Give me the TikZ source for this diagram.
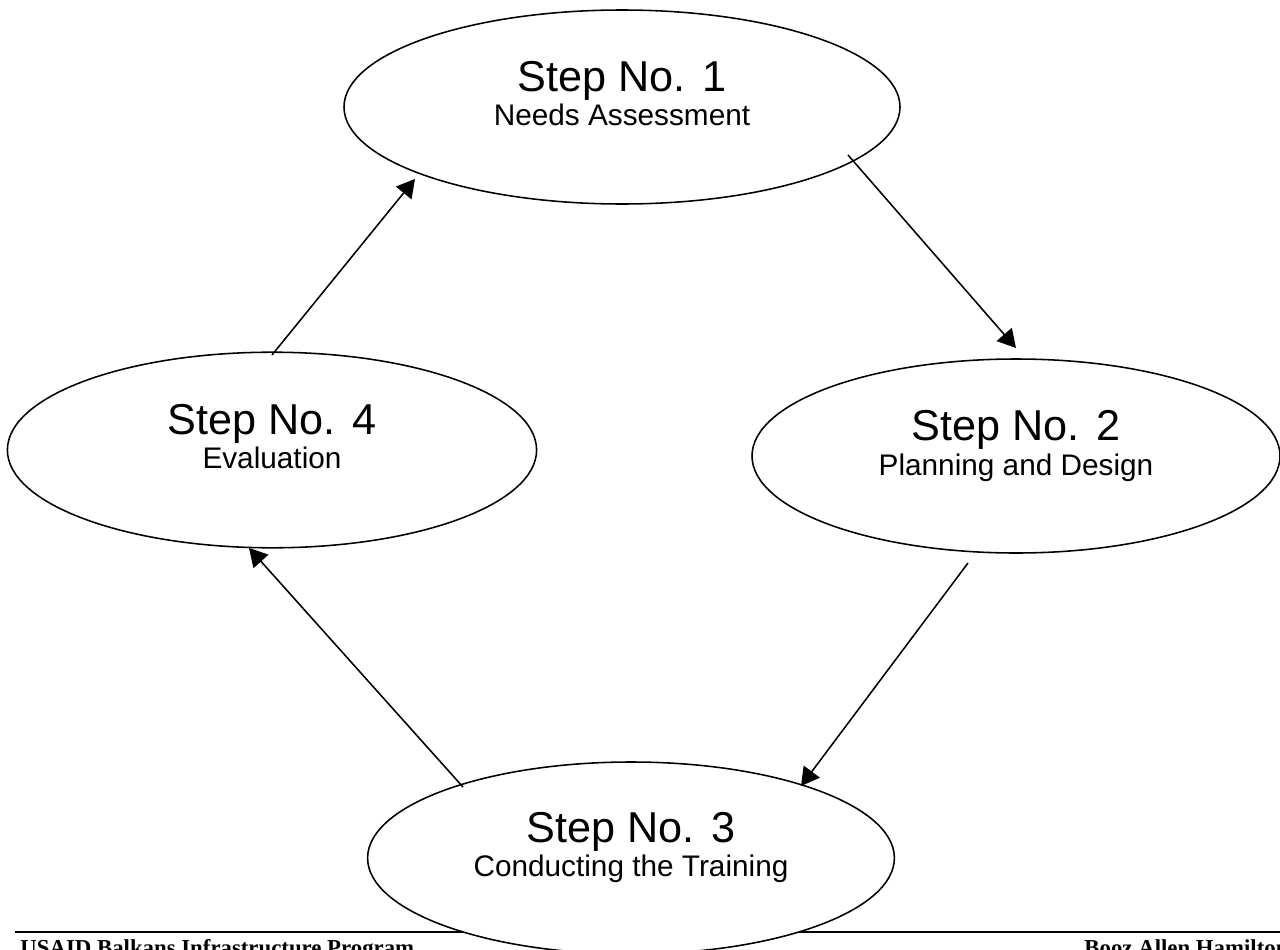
\documentclass[tikz,border=0pt]{standalone}
\usepackage{fontspec}
\setmainfont{Liberation Serif}
\newfontfamily\arialfam{Liberation Sans}
\usetikzlibrary{arrows.meta,calc,shapes.geometric}
\begin{document}
\begin{tikzpicture}[x=0.41667pt,y=-0.41667pt,
  stepellipse/.style={ellipse, draw, fill=white, line width=0.65pt, inner sep=0pt, outer sep=0pt},
  steptitle/.style={anchor=base, inner sep=0pt, font=\arialfam\fontsize{18}{22}\selectfont},
  stepsub/.style={anchor=base, inner sep=0pt, font=\arialfam\fontsize{12.4}{15}\selectfont},
  flow/.style={line width=0.65pt, -{Triangle[length=7.5pt,width=8.3pt]}},
  foot/.style={anchor=base west, inner sep=0pt, font=\bfseries\fontsize{9.5}{11.5}\selectfont}]
\useasboundingbox (0,0) rectangle (1280,950);
\clip (0,0) rectangle (1280,950);

% page footer: rule and running texts
\coordinate (ruleL) at (15,932);
\coordinate (ruleR) at (1280,932);
\draw[line width=0.85pt] (ruleL) -- (ruleR);
\node[foot] (footL) at (20,955) {USAID Balkans Infrastructure Program};
\node[foot] (footR) at (1084,955) {Booz Allen Hamilton};

% the four steps of the cycle
\node[stepellipse, minimum width=231.67pt, minimum height=80.83pt] (s1) at (622,107) {};
\node[stepellipse, minimum width=220pt, minimum height=80.83pt] (s2) at (1016,456) {};
\node[stepellipse, minimum width=219.5pt, minimum height=80pt] (s3) at (631,858) {};
\node[stepellipse, minimum width=220.5pt, minimum height=81.5pt] (s4) at (272,450) {};

\node[steptitle] (t1) at ($(s1.center)+(0,-16)$) {Step No. 1};
\node[stepsub]   (u1) at ($(s1.center)+(0,18)$) {Needs Assessment};
\node[steptitle] (t2) at ($(s2.center)+(0,-16)$) {Step No. 2};
\node[stepsub]   (u2) at ($(s2.center)+(0,19)$) {Planning and Design};
\node[steptitle] (t3) at ($(s3.center)+(0,-16)$) {Step No. 3};
\node[stepsub]   (u3) at ($(s3.center)+(0,18)$) {Conducting the Training};
\node[steptitle] (t4) at ($(s4.center)+(0,-16)$) {Step No. 4};
\node[stepsub]   (u4) at ($(s4.center)+(0,18)$) {Evaluation};

% arrows around the cycle
\draw[flow] ($(s1.center)+(226,48)$) -- ($(s2.center)+(0,-108)$);
\draw[flow] ($(s2.center)+(-48,107)$) -- ($(s3.center)+(170,-72)$);
\draw[flow] ($(s3.center)+(-168,-71)$) -- ($(s4.center)+(-23,98)$);
\draw[flow] ($(s4.center)+(0,-95)$) -- ($(s1.center)+(-207,72)$);
\end{tikzpicture}
\end{document}
